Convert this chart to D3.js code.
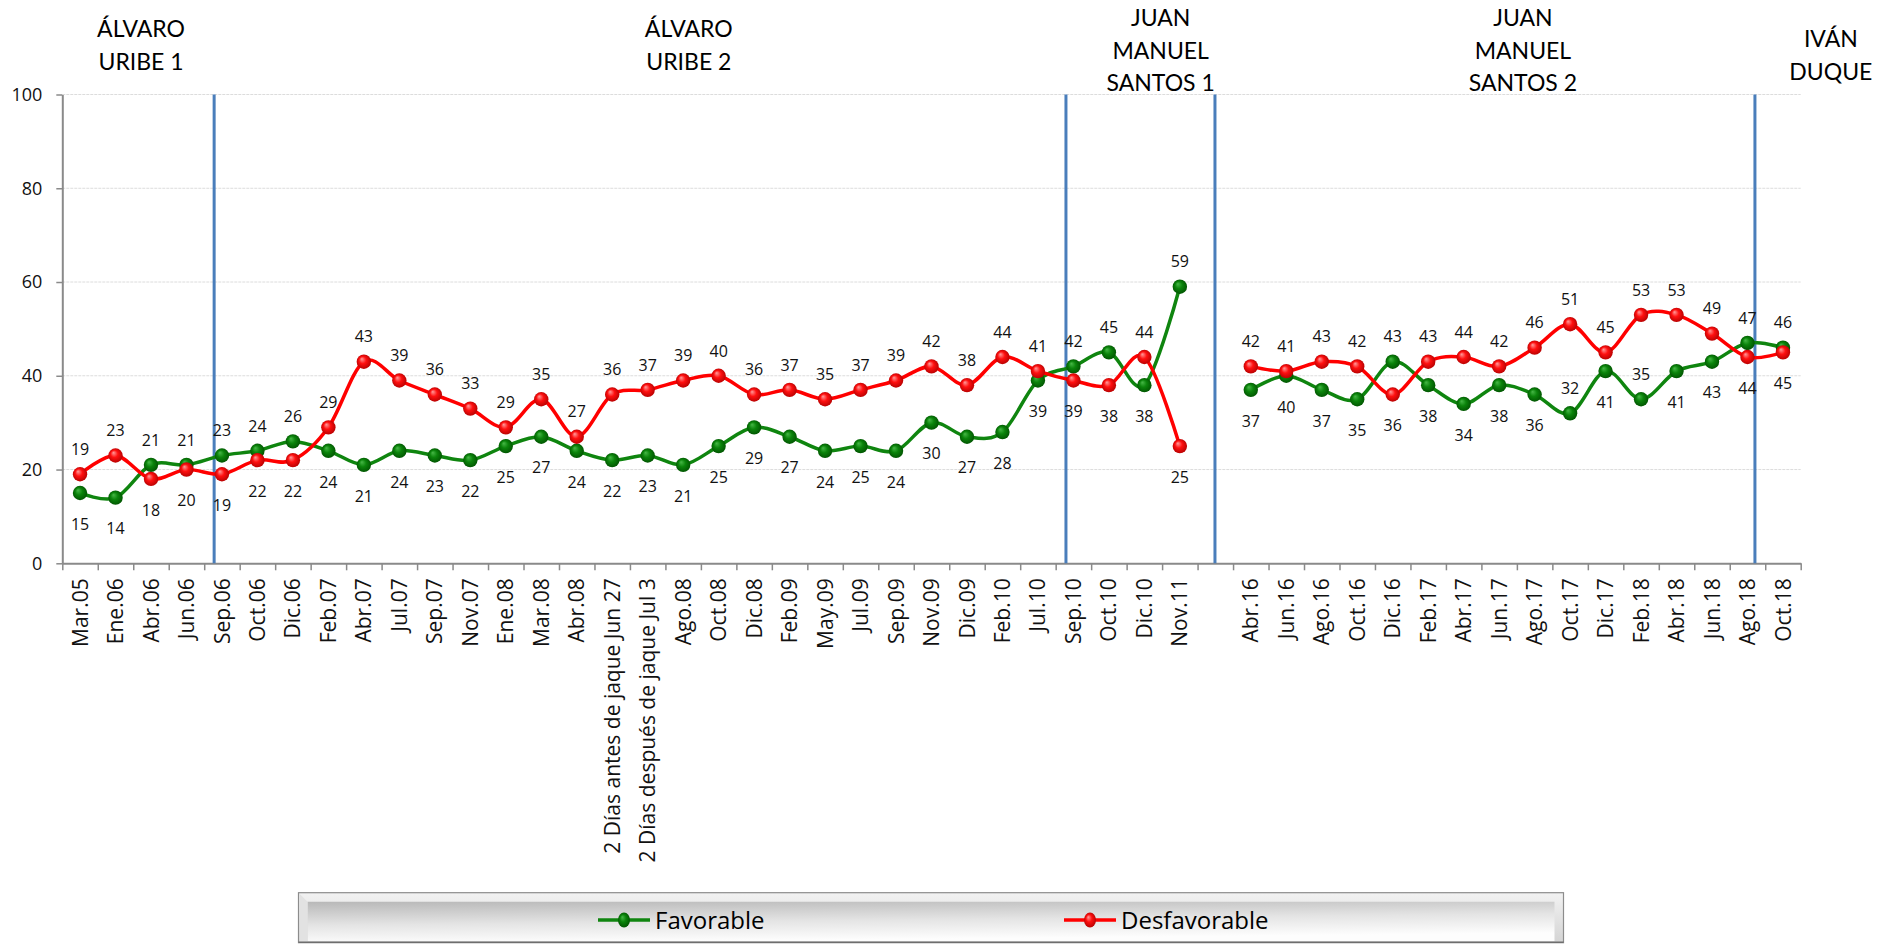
<!DOCTYPE html>
<html><head><meta charset="utf-8">
<script src="https://cdn.jsdelivr.net/npm/d3@7"></script>
<style>
html,body{margin:0;padding:0;background:#fff;}
svg{display:block;}
</style></head>
<body>
<svg id="chart" width="1880" height="944"></svg>
<script>
// ---------- DATA ----------
const categories = ["Mar.05","Ene.06","Abr.06","Jun.06","Sep.06","Oct.06","Dic.06","Feb.07","Abr.07","Jul.07",
  "Sep.07","Nov.07","Ene.08","Mar.08","Abr.08","2 Días antes de jaque Jun 27","2 Días después de jaque Jul 3",
  "Ago.08","Oct.08","Dic.08","Feb.09","May.09","Jul.09","Sep.09","Nov.09","Dic.09","Feb.10","Jul.10",
  "Sep.10","Oct.10","Dic.10","Nov.11","","Abr.16","Jun.16","Ago.16","Oct.16","Dic.16","Feb.17","Abr.17",
  "Jun.17","Ago.17","Oct.17","Dic.17","Feb.18","Abr.18","Jun.18","Ago.18","Oct.18"];
const favorable = [15,14,21,21,23,24,26,24,21,24,
  23,22,25,27,24,22,23,
  21,25,29,27,24,25,24,30,27,28,39,
  42,45,38,59,null,37,40,37,35,43,38,34,
  38,36,32,41,35,41,43,47,46];
const desfavorable = [19,23,18,20,19,22,22,29,43,39,
  36,33,29,35,27,36,37,
  39,40,36,37,35,37,39,42,38,44,41,
  39,38,44,25,null,42,41,43,42,36,43,44,
  42,46,51,45,53,53,49,44,45];
const seriesNames = ["Favorable","Desfavorable"];
const yTicks = [0,20,40,60,80,100];
const periodNames = [["ÁLVARO","URIBE 1"],["ÁLVARO","URIBE 2"],["JUAN","MANUEL","SANTOS 1"],["JUAN","MANUEL","SANTOS 2"],["IVÁN","DUQUE"]];
// categories where the Favorable label sits above its point although lower
const favLabelAbove = ["Oct.17","Feb.18"];

(function(){
// ---------- LAYOUT ----------
const pLeft = 62.3, pRight = 1800.7, pTop = 94.5, pBottom = 563.3;
const n = categories.length;
// period break positions (in category units) and title centres
const breakUnits = [4.28, 28.29, 32.49, 47.71];
const titleUnits = [2.22, 17.66, 30.96, 41.17, 49.85];
const titleTops = [29, 29, 18, 18, 39];

const svg = d3.select("#chart");
const defs = svg.append("defs");

function sphere(id, c0, c1, c2){
  const g = defs.append("radialGradient").attr("id", id)
    .attr("cx","50%").attr("cy","50%").attr("r","55%").attr("fx","35%").attr("fy","30%");
  g.append("stop").attr("offset","0%").attr("stop-color", c0);
  g.append("stop").attr("offset","45%").attr("stop-color", c1);
  g.append("stop").attr("offset","100%").attr("stop-color", c2);
}
sphere("gGreen", "#47b847", "#0b840b", "#005000");
sphere("gRed", "#ff9c9c", "#ff1010", "#b00000");

const xBand = d3.scaleBand().domain(d3.range(n)).range([pLeft, pRight]).padding(0);
const xLin = d3.scaleLinear().domain([0, n]).range([pLeft, pRight]);
const y = d3.scaleLinear().domain([0, 100]).range([pBottom, pTop]);
const cx = i => xBand(i) + xBand.bandwidth() / 2;

// gridlines
svg.append("g").selectAll("line").data(yTicks.filter(t => t > 0)).join("line")
  .attr("x1", pLeft).attr("x2", pRight).attr("y1", d => y(d)).attr("y2", d => y(d))
  .attr("stroke", "#dcdcdc").attr("stroke-width", 1).attr("stroke-dasharray", "3,1");

// y axis
const yAxis = svg.append("g").attr("transform", `translate(${pLeft},0)`)
  .call(d3.axisLeft(y).tickValues(yTicks).tickSize(6).tickSizeOuter(0).tickPadding(14));
yAxis.select(".domain").attr("stroke", "#8a8a8a").attr("stroke-width", 2);
yAxis.selectAll(".tick line").attr("stroke", "#8a8a8a").attr("stroke-width", 1.5);
yAxis.selectAll("text").attr("font-family", "Open Sans").attr("font-size", 18).attr("fill", "#111");

// x axis ticks (between categories)
const xAxis = svg.append("g").attr("transform", `translate(0,${pBottom})`)
  .call(d3.axisBottom(xLin).tickValues(d3.range(0, n + 1)).tickSize(7).tickSizeOuter(0).tickFormat(""));
xAxis.select(".domain").attr("stroke", "#8a8a8a").attr("stroke-width", 2);
xAxis.selectAll(".tick line").attr("stroke", "#8a8a8a").attr("stroke-width", 1.5);

// x labels
const xLab = svg.append("g").attr("transform", `translate(0,${pBottom})`)
  .call(d3.axisBottom(xBand).tickSize(0).tickFormat(i => categories[i]));
xLab.select(".domain").remove();
xLab.selectAll("text")
  .attr("transform", "rotate(-90)").attr("text-anchor", "end")
  .attr("x", -15).attr("y", 0).attr("dy", "0.36em")
  .attr("font-family", "Open Sans").attr("font-size", 21).attr("fill", "#111");

// period breaks
svg.append("g").selectAll("line").data(breakUnits).join("line")
  .attr("x1", d => xLin(d)).attr("x2", d => xLin(d)).attr("y1", pTop).attr("y2", pBottom)
  .attr("stroke", "#4a7ebb").attr("stroke-width", 3);

// period titles
const tg = svg.append("g");
periodNames.forEach((lines, k) => {
  const t = tg.append("text").attr("text-anchor", "middle")
    .attr("font-family", "Lato").attr("font-size", 23).attr("fill", "#000");
  lines.forEach((ln, j) => {
    t.append("tspan").attr("x", xLin(titleUnits[k])).attr("y", titleTops[k] + j * 32.5)
      .attr("dy", "0.35em").text(ln);
  });
});

// lines
const line = d3.line().defined(d => d != null).x((d, i) => cx(i)).y(d => y(d))
  .curve(d3.curveCatmullRom.alpha(0));

const series = [
  {vals: favorable, other: desfavorable, color: "#0f850f", grad: "url(#gGreen)", fav: true},
  {vals: desfavorable, other: favorable, color: "#ff0000", grad: "url(#gRed)", fav: false}
];

series.forEach(s => {
  const g = svg.append("g");
  g.append("path").datum(s.vals).attr("d", line).attr("fill", "none")
    .attr("stroke", s.color).attr("stroke-width", 3.5).attr("stroke-linejoin", "round");
  const pts = s.vals.map((v, i) => ({v, i})).filter(d => d.v != null);
  g.selectAll("circle").data(pts).join("circle")
    .attr("cx", d => cx(d.i)).attr("cy", d => y(d.v)).attr("r", 7.2)
    .attr("fill", s.grad);
});

// data labels
const lg = svg.append("g").attr("font-family", "Open Sans").attr("font-size", 16).attr("fill", "#111")
  .attr("text-anchor", "middle");
series.forEach(s => {
  s.vals.forEach((v, i) => {
    if (v == null) return;
    let above = s.fav ? v >= s.other[i] : v > s.other[i];
    if (s.fav && favLabelAbove.includes(categories[i])) above = true;
    const yy = y(v) + (above ? -25 : 31);
    lg.append("text").attr("x", cx(i)).attr("y", yy).attr("dy", "0.36em").text(v);
  });
});

// legend
const L = {x: 298.5, y: 892.7, w: 1265, h: 50};
const lgGrad = defs.append("linearGradient").attr("id", "legFace").attr("x1", 0).attr("y1", 0).attr("x2", 0.3).attr("y2", 1);
lgGrad.append("stop").attr("offset", "0%").attr("stop-color", "#b8b8b8");
lgGrad.append("stop").attr("offset", "55%").attr("stop-color", "#e4e4e4");
lgGrad.append("stop").attr("offset", "100%").attr("stop-color", "#fdfdfd");
const lgEdge = defs.append("linearGradient").attr("id", "legEdge").attr("x1", 0).attr("y1", 0).attr("x2", 0).attr("y2", 1);
lgEdge.append("stop").attr("offset", "0%").attr("stop-color", "#f2f2f2");
lgEdge.append("stop").attr("offset", "100%").attr("stop-color", "#d4d4d4");
const leg = svg.append("g");
leg.append("rect").attr("x", L.x).attr("y", L.y).attr("width", L.w).attr("height", L.h)
  .attr("fill", "url(#legEdge)").attr("stroke", "#8c8c8c").attr("stroke-width", 1.2);
leg.append("polygon")
  .attr("points", [[L.x + 9, L.y + 9], [L.x + L.w - 9, L.y + 9], [L.x + L.w - 9, L.y + L.h - 1.5], [L.x + 9, L.y + L.h - 1.5]].join(" "))
  .attr("fill", "url(#legFace)");
leg.append("polygon")
  .attr("points", [[L.x + 1, L.y + 1], [L.x + 9, L.y + 9], [L.x + 9, L.y + L.h - 1], [L.x + 1, L.y + L.h - 1]].join(" "))
  .attr("fill", "#e2e2e2");
leg.append("line").attr("x1", L.x).attr("x2", L.x + L.w).attr("y1", L.y + L.h - 0.5).attr("y2", L.y + L.h - 0.5)
  .attr("stroke", "#6e6e6e").attr("stroke-width", 1.5);

const legItems = [
  {name: seriesNames[0], color: "#0f850f", grad: "url(#gGreen)", x: 598},
  {name: seriesNames[1], color: "#ff0000", grad: "url(#gRed)", x: 1064}
];
const legCy = 920;
legItems.forEach(it => {
  leg.append("line").attr("x1", it.x).attr("x2", it.x + 52).attr("y1", legCy).attr("y2", legCy)
    .attr("stroke", it.color).attr("stroke-width", 3.5);
  leg.append("ellipse").attr("cx", it.x + 26).attr("cy", legCy).attr("rx", 6).attr("ry", 7.5).attr("fill", it.grad);
  leg.append("text").attr("x", it.x + 57).attr("y", legCy).attr("dy", "0.36em")
    .attr("font-family", "Open Sans").attr("font-size", 24).attr("fill", "#000").text(it.name);
});
})();
</script>
</body></html>
